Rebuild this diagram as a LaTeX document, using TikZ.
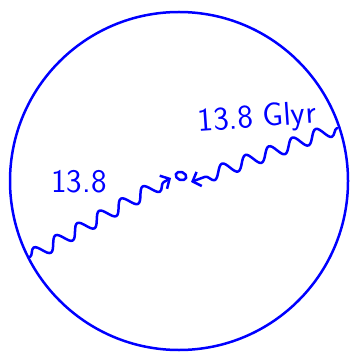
\documentclass[tikz,border=0pt]{standalone}
\usepackage{fontspec}
\usetikzlibrary{decorations.pathmorphing,arrows.meta,shapes.geometric}
\tikzset{
  hand/.style={blue, line width=2.5pt, line cap=round, line join=round},
  wave/.style={hand, decorate, decoration={snake, amplitude=6.5pt, segment length=25pt, post length=8pt}},
  lbl/.style={blue, font=\fontsize{33}{33}\selectfont\sffamily}
}
\begin{document}
\begin{tikzpicture}[x=1pt, y=-1pt]
  \useasboundingbox (0,0) rectangle (349,352);
  % the universe
  \draw[hand] (179,181) circle (169);
  % galaxy
  \node[hand, draw, ellipse, inner sep=0pt, minimum width=11pt, minimum height=8pt, rotate=-20] (gal) at (181,176) {};
  % light paths
  \coordinate (lstart) at (30,257);
  \coordinate (lend) at (171,178);
  \coordinate (rstart) at (337,128);
  \coordinate (rend) at (191,182);
  \draw[wave, -{Straight Barb[length=7pt, width=15pt]}] (lstart) -- (lend);
  \draw[wave, -{Straight Barb[length=7pt, width=15pt]}] (rstart) -- (rend);
  % labels
  \node[lbl] (l1) at (79,182) {13.8};
  \node[lbl, rotate=4] (l2) at (257,119) {13.8 Glyr};
\end{tikzpicture}
\end{document}
